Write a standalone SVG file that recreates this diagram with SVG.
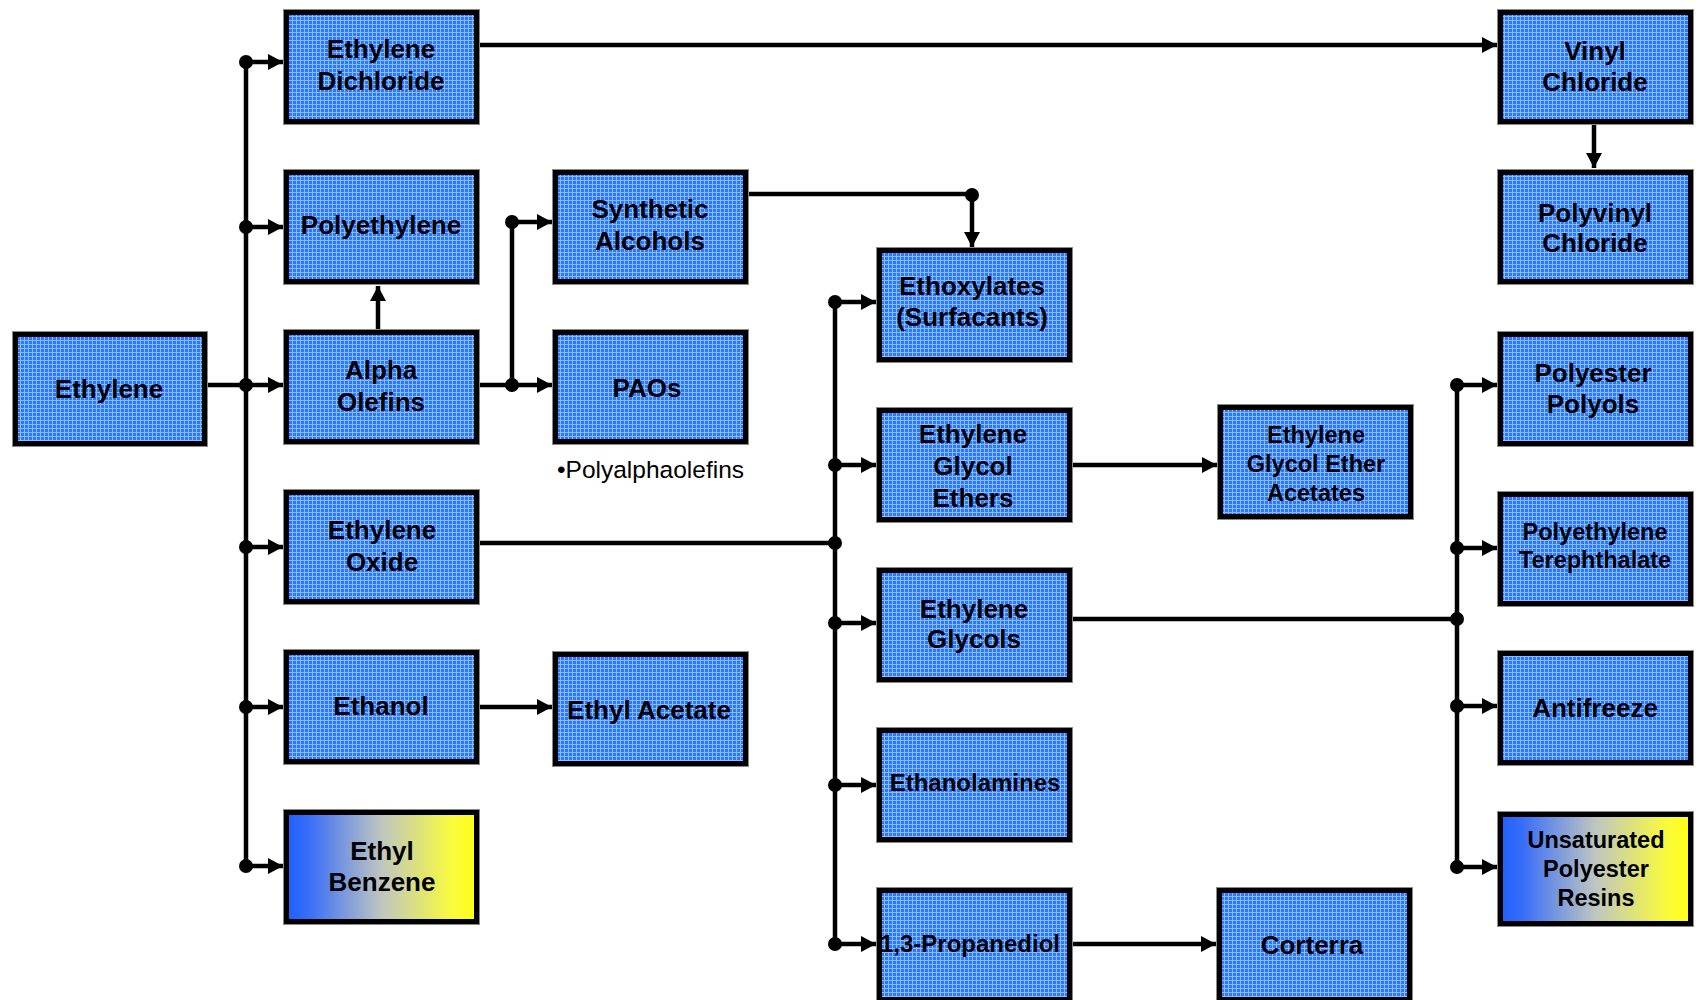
<svg xmlns="http://www.w3.org/2000/svg" width="1700" height="1000" viewBox="0 0 1700 1000">
<defs>
<pattern id="grid" width="4" height="4" patternUnits="userSpaceOnUse">
<rect width="4" height="4" fill="#2a78ff"/>
<rect width="1" height="4" fill="#8abcff"/>
<rect width="4" height="1" fill="#8abcff"/>
</pattern>
<linearGradient id="by" x1="0" y1="0" x2="1" y2="0">
<stop offset="0" stop-color="#1f5fff"/>
<stop offset="0.12" stop-color="#3a6ef8"/>
<stop offset="0.5" stop-color="#bfc6c0"/>
<stop offset="0.88" stop-color="#fafc3a"/>
<stop offset="1" stop-color="#ffff14"/>
</linearGradient>
<marker id="ah" markerUnits="userSpaceOnUse" markerWidth="15" markerHeight="16" refX="15" refY="8" orient="auto">
<path d="M0,0 L15,8 L0,16 Z" fill="#000"/>
</marker>
</defs>
<style>
.b{fill:url(#grid);stroke:#000;stroke-width:5}
.g{fill:url(#by);stroke:#000;stroke-width:5}
.o{fill:none;stroke:#8a8a8a;stroke-width:1}
.t{font-family:"Liberation Sans",Arial,sans-serif;font-weight:bold;font-size:26px;fill:#000;text-anchor:middle}
.s{font-size:23.5px}
.n{font-size:24px}
.p{font-family:"Liberation Sans",Arial,sans-serif;font-size:24.5px;fill:#000}
.c{fill:none;stroke:#000;stroke-width:4.5}
.a{fill:none;stroke:#000;stroke-width:4.5;marker-end:url(#ah)}
</style>
<rect width="1700" height="1000" fill="#fff"/>

<g id="connectors">
<path class="c" d="M208,385 H246 M246,62 V866"/>
<path class="a" d="M246,62 H283"/>
<path class="a" d="M246,227 H283"/>
<path class="a" d="M246,385 H283"/>
<path class="a" d="M246,547 H283"/>
<path class="a" d="M246,707 H283"/>
<path class="a" d="M246,866 H283"/>
<path class="a" d="M378,329 V286"/>
<path class="c" d="M480,385 H512 M512,222 V385"/>
<path class="a" d="M512,222 H552"/>
<path class="a" d="M512,385 H552"/>
<path class="c" d="M749,194 H972"/>
<path class="a" d="M972,194 V247"/>
<path class="a" d="M480,707 H552"/>
<path class="c" d="M480,543 H835 M835,302 V944"/>
<path class="a" d="M835,302 H876"/>
<path class="a" d="M835,465 H876"/>
<path class="a" d="M835,623 H876"/>
<path class="a" d="M835,785 H876"/>
<path class="a" d="M835,944 H876"/>
<path class="a" d="M1072,465 H1217"/>
<path class="a" d="M1072,944 H1216"/>
<path class="c" d="M1072,619 H1457 M1457,385 V867"/>
<path class="a" d="M1457,385 H1497"/>
<path class="a" d="M1457,548 H1497"/>
<path class="a" d="M1457,706 H1497"/>
<path class="a" d="M1457,867 H1497"/>
<path class="a" d="M480,45 H1497"/>
<path class="a" d="M1594,125 V168"/>
<g fill="#000">
<circle cx="246" cy="62" r="7"/><circle cx="246" cy="227" r="7"/><circle cx="246" cy="385" r="7"/>
<circle cx="246" cy="547" r="7"/><circle cx="246" cy="707" r="7"/><circle cx="246" cy="866" r="7"/>
<circle cx="512" cy="222" r="7"/><circle cx="512" cy="385" r="7"/>
<circle cx="972" cy="195" r="7"/>
<circle cx="835" cy="302" r="7"/><circle cx="835" cy="465" r="7"/><circle cx="835" cy="543" r="7"/>
<circle cx="835" cy="623" r="7"/><circle cx="835" cy="785" r="7"/><circle cx="835" cy="944" r="7"/>
<circle cx="1457" cy="385" r="7"/><circle cx="1457" cy="548" r="7"/><circle cx="1457" cy="619" r="7"/>
<circle cx="1457" cy="706" r="7"/><circle cx="1457" cy="867" r="7"/>
</g>
</g>

<g id="ethylene"><rect class="b" x="15.5" y="334.5" width="189" height="109"/><rect class="o" x="12.5" y="331.5" width="195" height="115"/><text class="t" x="109" y="398">Ethylene</text></g>

<g id="ethylene-dichloride"><rect class="b" x="286.5" y="12.5" width="190" height="109"/><rect class="o" x="283.5" y="9.5" width="196" height="115"/><text class="t" x="381" y="58">Ethylene</text><text class="t" x="381" y="90">Dichloride</text></g>
<g id="polyethylene"><rect class="b" x="286.5" y="172.5" width="190" height="109"/><rect class="o" x="283.5" y="169.5" width="196" height="115"/><text class="t" x="381" y="234">Polyethylene</text></g>
<g id="alpha-olefins"><rect class="b" x="286.5" y="332.5" width="190" height="109"/><rect class="o" x="283.5" y="329.5" width="196" height="115"/><text class="t" x="381" y="379">Alpha</text><text class="t" x="381" y="411">Olefins</text></g>
<g id="ethylene-oxide"><rect class="b" x="286.5" y="492.5" width="190" height="109"/><rect class="o" x="283.5" y="489.5" width="196" height="115"/><text class="t" x="382" y="539">Ethylene</text><text class="t" x="382" y="571">Oxide</text></g>
<g id="ethanol"><rect class="b" x="286.5" y="652.5" width="190" height="109"/><rect class="o" x="283.5" y="649.5" width="196" height="115"/><text class="t" x="381" y="715">Ethanol</text></g>
<g id="ethyl-benzene"><rect class="g" x="286.5" y="812.5" width="190" height="109"/><rect class="o" x="283.5" y="809.5" width="196" height="115"/><text class="t" x="382" y="860">Ethyl</text><text class="t" x="382" y="891">Benzene</text></g>

<g id="synthetic-alcohols"><rect class="b" x="555.5" y="172.5" width="190" height="109"/><rect class="o" x="552.5" y="169.5" width="196" height="115"/><text class="t" x="650" y="218">Synthetic</text><text class="t" x="650" y="250">Alcohols</text></g>
<g id="paos"><rect class="b" x="555.5" y="332.5" width="190" height="109"/><rect class="o" x="552.5" y="329.5" width="196" height="115"/><text class="t" x="647" y="397">PAOs</text></g>
<text class="p" x="557" y="478">•Polyalphaolefins</text>
<g id="ethyl-acetate"><rect class="b" x="555.5" y="654.5" width="190" height="109"/><rect class="o" x="552.5" y="651.5" width="196" height="115"/><text class="t" x="649" y="719">Ethyl Acetate</text></g>

<g id="ethoxylates"><rect class="b" x="879.5" y="250.5" width="190" height="109"/><rect class="o" x="876.5" y="247.5" width="196" height="115"/><text class="t" x="972" y="295">Ethoxylates</text><text class="t" x="972" y="326">(Surfacants)</text></g>
<g id="ethylene-glycol-ethers"><rect class="b" x="879.5" y="410.5" width="190" height="109"/><rect class="o" x="876.5" y="407.5" width="196" height="115"/><text class="t" x="973" y="443">Ethylene</text><text class="t" x="973" y="475">Glycol</text><text class="t" x="973" y="507">Ethers</text></g>
<g id="ethylene-glycols"><rect class="b" x="879.5" y="570.5" width="190" height="109"/><rect class="o" x="876.5" y="567.5" width="196" height="115"/><text class="t" x="974" y="618">Ethylene</text><text class="t" x="974" y="648">Glycols</text></g>
<g id="ethanolamines"><rect class="b" x="879.5" y="730.5" width="190" height="109"/><rect class="o" x="876.5" y="727.5" width="196" height="115"/><text class="t n" x="975" y="791">Ethanolamines</text></g>
<g id="propanediol"><rect class="b" x="879.5" y="890.5" width="190" height="109"/><rect class="o" x="876.5" y="887.5" width="196" height="115"/><text class="t n" x="970" y="952">1,3-Propanediol</text></g>

<g id="eg-ether-acetates"><rect class="b" x="1220.5" y="407.5" width="190" height="109"/><rect class="o" x="1217.5" y="404.5" width="196" height="115"/><text class="t s" x="1316" y="443">Ethylene</text><text class="t s" x="1316" y="472">Glycol Ether</text><text class="t s" x="1316" y="501">Acetates</text></g>
<g id="corterra"><rect class="b" x="1219.5" y="890.5" width="190" height="109"/><rect class="o" x="1216.5" y="887.5" width="196" height="115"/><text class="t" x="1312" y="954">Corterra</text></g>

<g id="vinyl-chloride"><rect class="b" x="1500.5" y="12.5" width="190" height="109"/><rect class="o" x="1497.5" y="9.5" width="196" height="115"/><text class="t" x="1595" y="60">Vinyl</text><text class="t" x="1595" y="91">Chloride</text></g>
<g id="polyvinyl-chloride"><rect class="b" x="1500.5" y="172.5" width="190" height="109"/><rect class="o" x="1497.5" y="169.5" width="196" height="115"/><text class="t" x="1595" y="222">Polyvinyl</text><text class="t" x="1595" y="252">Chloride</text></g>
<g id="polyester-polyols"><rect class="b" x="1500.5" y="334.5" width="190" height="109"/><rect class="o" x="1497.5" y="331.5" width="196" height="115"/><text class="t" x="1593" y="382">Polyester</text><text class="t" x="1593" y="413">Polyols</text></g>
<g id="pet"><rect class="b" x="1500.5" y="494.5" width="190" height="109"/><rect class="o" x="1497.5" y="491.5" width="196" height="115"/><text class="t s" x="1595" y="540">Polyethylene</text><text class="t s" x="1595" y="568">Terephthalate</text></g>
<g id="antifreeze"><rect class="b" x="1500.5" y="653.5" width="190" height="109"/><rect class="o" x="1497.5" y="650.5" width="196" height="115"/><text class="t" x="1595" y="717">Antifreeze</text></g>
<g id="unsaturated-polyester-resins"><rect class="g" x="1500.5" y="814.5" width="190" height="109"/><rect class="o" x="1497.5" y="811.5" width="196" height="115"/><text class="t s" x="1596" y="848">Unsaturated</text><text class="t s" x="1596" y="877">Polyester</text><text class="t s" x="1596" y="906">Resins</text></g>
</svg>
